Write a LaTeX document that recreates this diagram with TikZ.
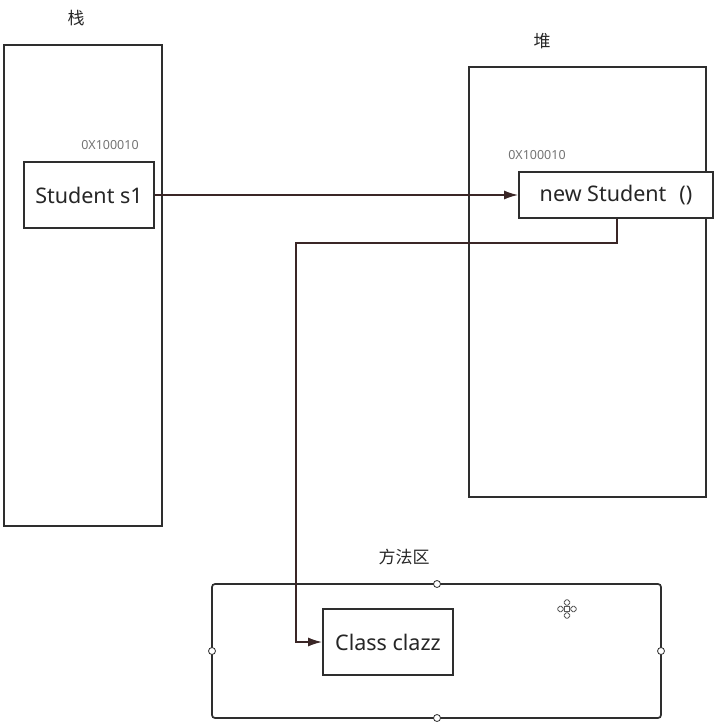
\documentclass[tikz,border=0pt]{standalone}
\usepackage{fontspec}
\setmainfont{Noto Sans}
\newfontfamily\cjk{Noto Sans CJK SC}
\usetikzlibrary{arrows.meta}
\definecolor{lineclr}{HTML}{2E2E2E}
\definecolor{connclr}{HTML}{3A2626}
\tikzset{
  region/.style={draw=lineclr, line width=1.7pt},
  item/.style={draw=lineclr, line width=1.7pt, fill=white, font=\fontsize{21.5}{25}\selectfont, text=black!85},
  addr/.style={font=\fontsize{12.5}{14}\selectfont, text=black!55},
  title/.style={font=\cjk\fontsize{17}{20}\selectfont, text=black!85},
  conn/.style={draw=connclr, line width=1.7pt, -{Latex[length=14pt,width=9pt]}},
  handle/.style={circle, draw=lineclr, fill=white, line width=0.8pt, inner sep=0pt, minimum size=7pt},
}
\begin{document}
\begin{tikzpicture}[x=1pt,y=-1pt]
\useasboundingbox (0,0) rectangle (725,727);
% stack
\draw[region] (4,45) rectangle (162,526);
\node[title] (stacklabel) at (76,18) {栈};
\node[addr] (addr1) at (110,145) {0X100010};
\node[item, minimum width=130pt, minimum height=66pt] (s1) at (89,195) {Student s1};
% heap
\draw[region] (469,67) rectangle (706,497);
\node[title] (heaplabel) at (542,41) {堆};
\node[addr] (addr2) at (537,155) {0X100010};
\node[item, minimum width=194pt, minimum height=46pt] (ns) at (616,195) {new Student\hspace{0.6em}()};
% method area
\draw[region, rounded corners=3pt] (212,584) rectangle (661,718);
\node[title] (methodlabel) at (404,557) {方法区};
\node[item, minimum width=130pt, minimum height=66pt] (cc) at (388,642) {Class clazz};
\foreach \p/\n in {{(437,584)}/ht, {(212,651)}/hl, {(661,651)}/hr, {(437,718)}/hb}
  \node[handle] (\n) at \p {};
% move icon
\begin{scope}[shift={(567,609)}, draw=black!65, line width=0.8pt]
  \draw[rounded corners=1pt] (0,-3) -- (-3.5,-6.5) -- (0,-10) -- (3.5,-6.5) -- cycle;
  \draw[rounded corners=1pt] (0,3) -- (-3.5,6.5) -- (0,10) -- (3.5,6.5) -- cycle;
  \draw[rounded corners=1pt] (-3,0) -- (-6.5,-3.5) -- (-10,0) -- (-6.5,3.5) -- cycle;
  \draw[rounded corners=1pt] (3,0) -- (6.5,-3.5) -- (10,0) -- (6.5,3.5) -- cycle;
  \draw (-2.5,-2.5) rectangle (2.5,2.5);
\end{scope}
% connectors
\coordinate (b1) at (617,243);
\coordinate (b2) at (296,243);
\draw[conn] (s1.east) -- (ns.west);
\draw[conn] (ns.south -| b1) -- (b1) -- (b2) -- (b2 |- cc.west) -- (cc.west);
\end{tikzpicture}
\end{document}
